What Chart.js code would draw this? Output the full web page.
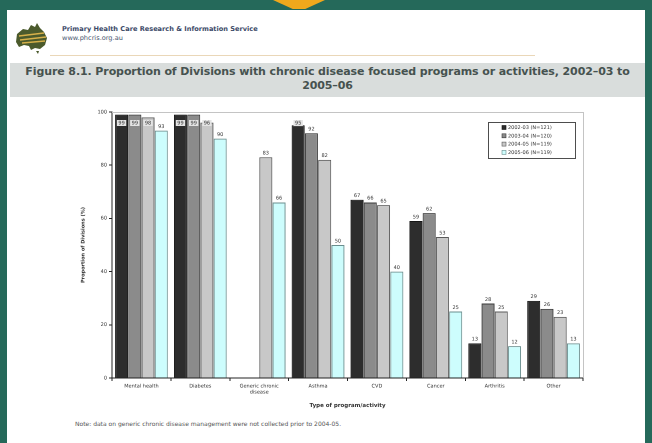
<!DOCTYPE html>
<html><head><meta charset="utf-8">
<script src="https://cdn.jsdelivr.net/npm/chart.js@4"></script>
<style>
html,body{margin:0;padding:0;width:652px;height:443px;overflow:hidden;background:#25695a;font-family:"DejaVu Sans",Verdana,sans-serif}
#panel{position:absolute;left:7px;top:10px;width:638px;height:433px;background:#fff}
#arrow{position:absolute;left:273px;top:0;width:52px;height:9px;background:#f0a81c;clip-path:polygon(0 0,100% 0,62% 100%,38% 100%)}
#logo{position:absolute;left:14px;top:22px}
#org{position:absolute;left:62px;top:25px;font-size:6.6px;font-weight:bold;color:#3c4a68;line-height:9px}
#org .url{font-weight:normal;color:#4a5670}
#rule{position:absolute;left:50px;top:55px;width:485px;height:1px;background:#ead7b8}
#band{position:absolute;left:10px;top:63px;width:635px;height:34px;background:#d9dddc}
#title{position:absolute;left:10px;top:65px;width:635px;text-align:center;font-size:11px;font-weight:bold;color:#46524f;line-height:14px;letter-spacing:-0.1px;white-space:nowrap}
#note{position:absolute;left:75px;top:420px;font-size:6px;color:#555}
#wrap{position:absolute;left:80px;top:100px;width:540px;height:315px}
</style></head><body>
<div id="panel"></div>
<div id="arrow"></div>
<svg id="logo" width="36" height="32" viewBox="0 0 36 32">
 <path d="M3 12 L9 7 L14 8 L17 3 L21 5 L23 1 L26 6 L30 10 L33 16 L31 23 L26 27 L21 26 L17 28 L15 24 L10 23 L5 25 L2 20 Z" fill="#4b5a2c"/>
 <path d="M5 14 L30 11 M6 18 L32 15 M8 21 L31 19" stroke="#d6b04a" stroke-width="1.6"/>
 <path d="M22 29 L25 29 L24 32 Z" fill="#4b5a2c"/>
</svg>
<div id="org">Primary Health Care Research &amp; Information Service<br><span class="url">www.phcris.org.au</span></div>
<div id="rule"></div>
<div id="band"></div>
<div id="title">Figure 8.1. Proportion of Divisions with chronic disease focused programs or activities, 2002–03 to<br>2005–06</div>
<div id="wrap"><canvas id="c"></canvas></div>
<div id="note">Note: data on generic chronic disease management were not collected prior to 2004-05.</div>
<script>
const categories = [["Mental health"], ["Diabetes"], ["Generic chronic", "disease"], ["Asthma"], ["CVD"], ["Cancer"], ["Arthritis"], ["Other"]];
const seriesNames = ["2002-03 (N=121)", "2003-04 (N=120)", "2004-05 (N=119)", "2005-06 (N=119)"];
const values2002 = [99, 99, null, 95, 67, 59, 13, 29];
const values2003 = [99, 99, null, 92, 66, 62, 28, 26];
const values2004 = [98, 96, 83, 82, 65, 53, 25, 23];
const values2005 = [93, 90, 66, 50, 40, 25, 12, 13];
const yTicks = [0, 20, 40, 60, 80, 100];

const fills = ["#2d2d2d", "#8b8b8b", "#c8c8c8", "#cdfdfd"];
const borders = ["#151515", "#3a3a3a", "#5a5a5a", "#6a8e8e"];
const seriesValues = [values2002, values2003, values2004, values2005];

const framePlugin = {
  id: 'frame',
  beforeDatasetsDraw(chart) {
    const {ctx, chartArea: a} = chart;
    ctx.save();
    ctx.strokeStyle = '#c4c4c4';
    ctx.lineWidth = 1;
    ctx.beginPath();
    ctx.moveTo(a.left, a.top + 0.5);
    ctx.lineTo(a.right + 0.5, a.top + 0.5);
    ctx.lineTo(a.right + 0.5, a.bottom);
    ctx.stroke();
    ctx.restore();
  },
  afterDatasetsDraw(chart) {
    const {ctx, chartArea: a} = chart;
    ctx.save();
    ctx.font = '5px "DejaVu Sans"';
    ctx.textAlign = 'center';
    ctx.textBaseline = 'middle';
    chart.data.datasets.forEach((ds, di) => {
      const meta = chart.getDatasetMeta(di);
      meta.data.forEach((bar, i) => {
        const v = ds.data[i];
        if (v === null || v === undefined) return;
        let y = bar.y - 4;
        const minY = a.top + 11;
        let inside = false;
        if (y < minY) { y = minY; inside = true; }
        const t = String(v);
        if (inside) {
          const w = ctx.measureText(t).width + 3;
          ctx.fillStyle = '#e4e4e4';
          ctx.fillRect(bar.x - w / 2, y - 3, w, 6);
        }
        ctx.fillStyle = '#333';
        ctx.fillText(t, bar.x, y);
      });
    });
    // legend box
    const bx = a.right - 95, by = a.top + 10, bw = 87, bh = 36;
    ctx.fillStyle = '#fff';
    ctx.fillRect(bx, by, bw, bh);
    ctx.strokeStyle = '#222';
    ctx.lineWidth = 0.8;
    ctx.strokeRect(bx + 0.5, by + 0.5, bw, bh);
    ctx.textAlign = 'left';
    chart.data.datasets.forEach((ds, di) => {
      const yy = by + 5.5 + di * 8.3;
      ctx.fillStyle = ds.backgroundColor;
      ctx.fillRect(bx + 14, yy - 2, 4, 4);
      ctx.strokeStyle = ds.borderColor;
      ctx.lineWidth = 0.6;
      ctx.strokeRect(bx + 14, yy - 2, 4, 4);
      ctx.fillStyle = '#333';
      ctx.fillText(ds.label, bx + 20, yy + 0.3);
    });
    ctx.restore();
  }
};

new Chart(document.getElementById('c'), {
  type: 'bar',
  data: {
    labels: categories,
    datasets: seriesNames.map((n, k) => ({
      label: n,
      data: seriesValues[k],
      backgroundColor: fills[k],
      borderColor: borders[k],
      borderWidth: 1,
      categoryPercentage: 0.9,
      barPercentage: 0.98
    }))
  },
  options: {
    responsive: true,
    maintainAspectRatio: false,
    animation: false,
    devicePixelRatio: 2,
    layout: {padding: {top: 12, right: 37, left: 0, bottom: 2}},
    plugins: {legend: {display: false}, tooltip: {enabled: false}},
    scales: {
      x: {
        grid: {display: true, drawOnChartArea: false, tickLength: 3, color: '#222', offset: true},
        border: {color: '#222', width: 1},
        ticks: {font: {size: 5, family: 'DejaVu Sans'}, color: '#333', padding: 2, maxRotation: 0, autoSkip: false},
        title: {display: true, text: 'Type of program/activity', font: {size: 5.5, weight: 'bold', family: 'DejaVu Sans'}, color: '#333', padding: {top: 4}},
        afterFit(s) { s.height = 35; }
      },
      y: {
        min: 0, max: 100,
        afterBuildTicks(s) { s.ticks = yTicks.map(v => ({value: v})); },
        grid: {display: true, drawOnChartArea: false, tickLength: 3, color: '#222'},
        border: {color: '#222', width: 1},
        ticks: {font: {size: 5, family: 'DejaVu Sans'}, color: '#333', padding: 2},
        title: {display: true, text: 'Proportion of Divisions (%)', font: {size: 5, weight: 'bold', family: 'DejaVu Sans'}, color: '#333', padding: 0},
        afterFit(s) { s.width = 32; }
      }
    }
  },
  plugins: [framePlugin]
});
</script>
</body></html>
